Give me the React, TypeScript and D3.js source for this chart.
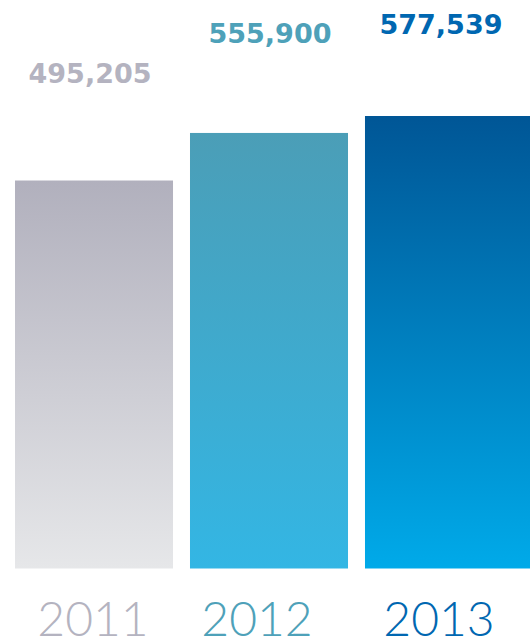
import React from "react";
import * as d3 from "d3";

const years = ["2011", "2012", "2013"];
const values = [495205, 555900, 577539];
const topColors = ["#b1b0bd", "#4b9eb7", "#005696"];
const bottomColors = ["#e6e7e9", "#33b6e4", "#00aae9"];
const valueColors = ["#b4b3c0", "#4ea1b9", "#0067b1"];
const yearColors = ["#b4b3c0", "#4ea1b9", "#0067b1"];
const valueGap = [98, 90, 82];
const valueShift = [-4, 1, -3];
const yearShift = [-1, -12, -5];

export default function App() {
  const W = 530, H = 643;
  const x = d3.scaleBand<string>().domain(years).range([15, 523]).paddingInner(0.097).paddingOuter(0);
  const y = d3.scaleLinear().domain([0, 577539]).range([568.5, 116]);
  const fmt = d3.format(",");
  return (
    <svg width={W} height={H} style={{ position: "absolute", left: 0, top: 0 }}>
      <defs>
        {years.map((yr, i) => (
          <linearGradient key={yr} id={`g${i}`} x1="0" y1="0" x2="0" y2="1">
            <stop offset="0" stopColor={topColors[i]} />
            <stop offset="1" stopColor={bottomColors[i]} />
          </linearGradient>
        ))}
      </defs>
      {years.map((yr, i) => {
        const bx = x(yr)!;
        const bw = i === years.length - 1 ? W - bx : x.bandwidth();
        const top = y(values[i]);
        const cx = bx + x.bandwidth() / 2;
        return (
          <g key={yr}>
            <rect x={bx} y={top} width={bw} height={y(0) - top} fill={`url(#g${i})`} />
            <text x={cx + valueShift[i]} y={top - valueGap[i]} textAnchor="middle" fill={valueColors[i]}
              style={{ fontFamily: "DejaVu Sans", fontWeight: 700, fontSize: 27 }}>{fmt(values[i])}</text>
            <text x={cx + yearShift[i]} y={636} textAnchor="middle" fill={yearColors[i]}
              style={{ fontFamily: "Lato", fontWeight: 300, fontSize: 48 }}>{yr}</text>
          </g>
        );
      })}
    </svg>
  );
}
